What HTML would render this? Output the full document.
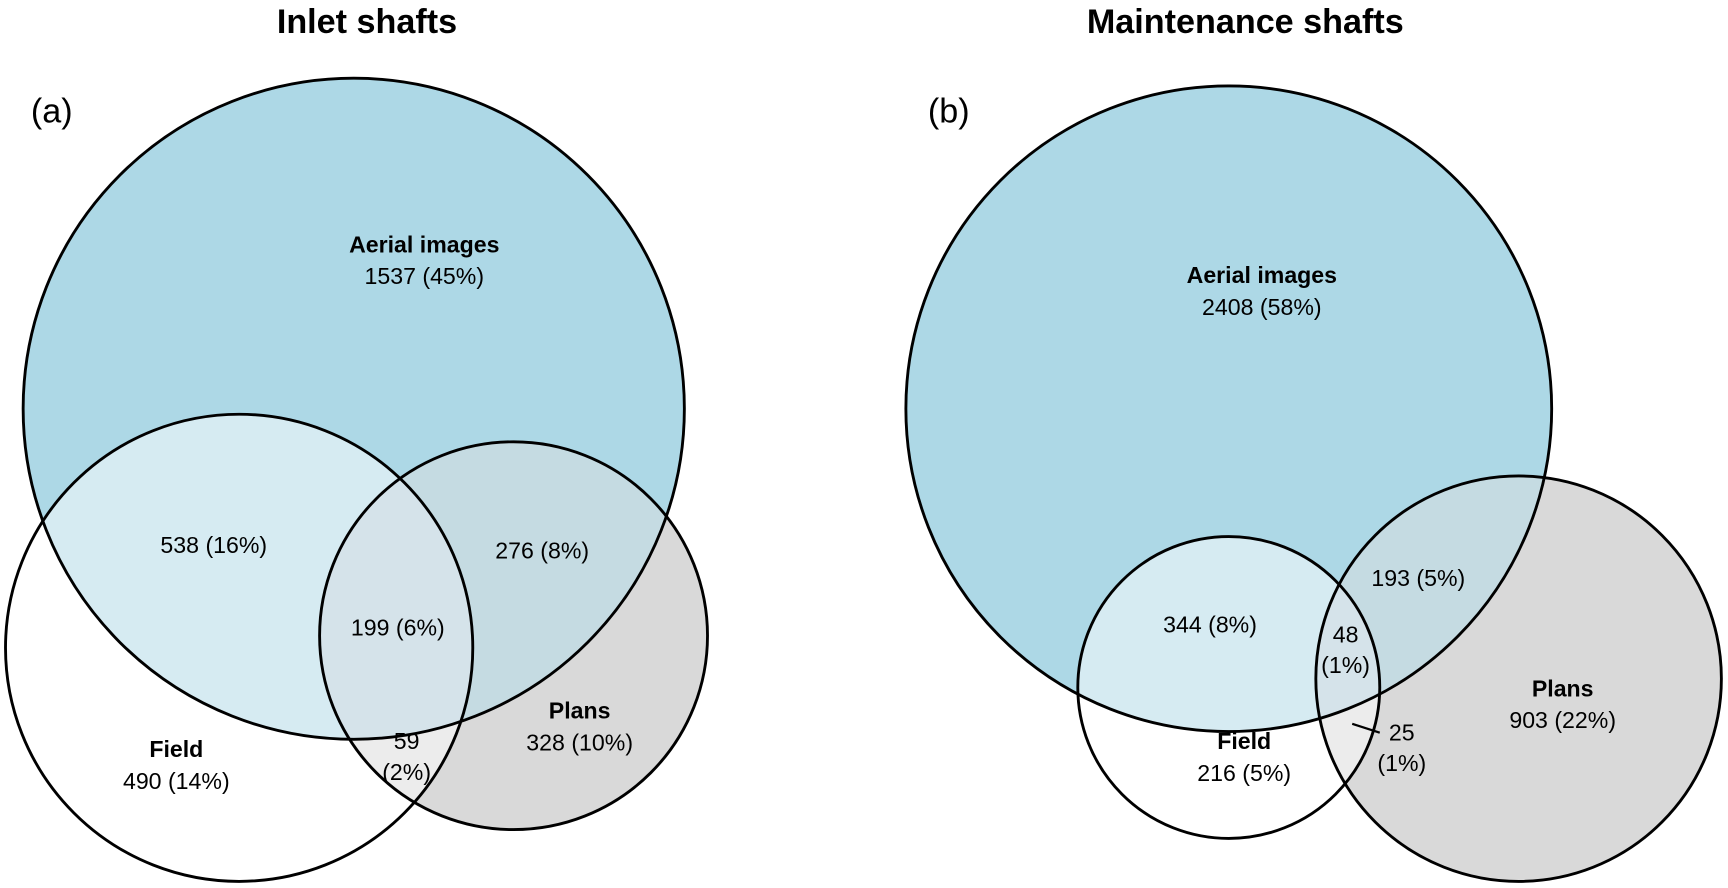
<!DOCTYPE html>
<html><head><meta charset="utf-8"><style>
html,body{margin:0;padding:0;background:#fff;}
svg{display:block;font-family:"Liberation Sans",Arial,sans-serif;}
</style></head><body>
<svg id="chart" width="1728" height="888" viewBox="0 0 1568 806" preserveAspectRatio="none" xmlns="http://www.w3.org/2000/svg"></svg>
<script>
const panelTitles = ["Inlet shafts", "Maintenance shafts"];
const panelTags = ["(a)", "(b)"];
const setNames = ["Aerial images", "Field", "Plans"];
// region counts: [aerialOnly, fieldOnly, plansOnly, aerial&field, aerial&plans, field&plans, all]
const countsA = [1537, 490, 328, 538, 276, 59, 199];
const pctA = ["45%", "14%", "10%", "16%", "8%", "2%", "6%"];
const countsB = [2408, 216, 903, 344, 193, 25, 48];
const pctB = ["58%", "5%", "22%", "8%", "5%", "1%", "1%"];

const NS = "http://www.w3.org/2000/svg";
const svg = document.getElementById("chart");
function el(tag, attrs, parent) {
  const e = document.createElementNS(NS, tag);
  for (const k in attrs) e.setAttribute(k, attrs[k]);
  (parent || svg).appendChild(e);
  return e;
}
const layouts = [
  { tx: 333, tagX: 28, circ: [[321, 371, 300], [217, 588, 212], [466, 577, 176]],
    lab: { a: [385, 222], f: [160, 680], p: [526, 645], af: [194, 495], ap: [492, 500], fp: [369, 673, 2], all: [361, 570] } },
  { tx: 1130, tagX: 842, circ: [[1115, 371, 293], [1115, 624, 137], [1378, 616, 184]],
    lab: { a: [1145, 250], f: [1129, 673], p: [1418, 625], af: [1098, 567], ap: [1287, 525], fp: [1272, 665, 2], all: [1221, 576, 2] },
    leader: [1227, 657, 1252, 665] }
];
const counts = [countsA, countsB], pcts = [pctA, pctB];

layouts.forEach((L, i) => {
  const g = el("g", {});
  
  
  const defs = el("defs", {}, g);
  const ids = ["A", "F", "P"].map(s => "c" + s + i);
  L.circ.forEach((c, k) => {
    const cp = el("clipPath", { id: ids[k] }, defs);
    el("circle", { cx: c[0], cy: c[1], r: c[2] }, cp);
  });
  const [A, F, P] = L.circ;
  const circ = (c, fill, parent, clip) => {
    const o = { cx: c[0], cy: c[1], r: c[2], fill: fill };
    if (clip) o["clip-path"] = "url(#" + clip + ")";
    return el("circle", o, parent || g);
  };
  const ca = circ(A, "#add8e6");
  
  
  const cf = circ(F, "#ffffff");
  
  
  const cpn = circ(P, "#d9d9d9");
  
  
  circ(F, "#d6ebf2", g, ids[0]);
  circ(P, "#c5dbe2", g, ids[0]);
  circ(P, "#ececec", g, ids[1]);
  const tg = el("g", { "clip-path": "url(#" + ids[0] + ")" }, g);
  circ(F, "#d5e3ea", tg, ids[2]);
  L.circ.forEach(c => el("circle", { cx: c[0], cy: c[1], r: c[2], fill: "none", stroke: "#000", "stroke-width": 2.6 }, g));
  if (L.leader) {
    const ln = el("line", { x1: L.leader[0], y1: L.leader[1], x2: L.leader[2], y2: L.leader[3], stroke: "#000", "stroke-width": 2 }, g);
    
    
  }
  const t = el("text", { x: L.tx, y: 30, "text-anchor": "middle", "font-size": 31, "font-weight": "bold" }, g);
  t.textContent = panelTitles[i];
  
  
  const tag = el("text", { x: L.tagX, y: 111, "font-size": 31 }, g);
  tag.textContent = panelTags[i];
  
  
  const C = counts[i], Pc = pcts[i];
  const setLab = (pos, name, k) => {
    const n = el("text", { x: pos[0], y: pos[1] + 7, "text-anchor": "middle", "font-size": 21, "font-weight": "bold" }, g);
    n.textContent = name;
    
    
    const v = el("text", { x: pos[0], y: pos[1] + 36, "text-anchor": "middle", "font-size": 21 }, g);
    v.textContent = C[k] + " (" + Pc[k] + ")";
    
    
  };
  setLab(L.lab.a, setNames[0], 0);
  setLab(L.lab.f, setNames[1], 1);
  setLab(L.lab.p, setNames[2], 2);
  const regLab = (pos, k) => {
    if (pos[2] === 2) {
      const a = el("text", { x: pos[0], y: pos[1] + 7, "text-anchor": "middle", "font-size": 21 }, g);
      a.textContent = String(C[k]);
      
      
      const b = el("text", { x: pos[0], y: pos[1] + 35, "text-anchor": "middle", "font-size": 21 }, g);
      b.textContent = "(" + Pc[k] + ")";
      
      
    } else {
      const a = el("text", { x: pos[0], y: pos[1] + 7, "text-anchor": "middle", "font-size": 21 }, g);
      a.textContent = C[k] + " (" + Pc[k] + ")";
      
      
    }
  };
  regLab(L.lab.af, 3);
  regLab(L.lab.ap, 4);
  regLab(L.lab.fp, 5);
  regLab(L.lab.all, 6);
});
</script>
</body></html>
